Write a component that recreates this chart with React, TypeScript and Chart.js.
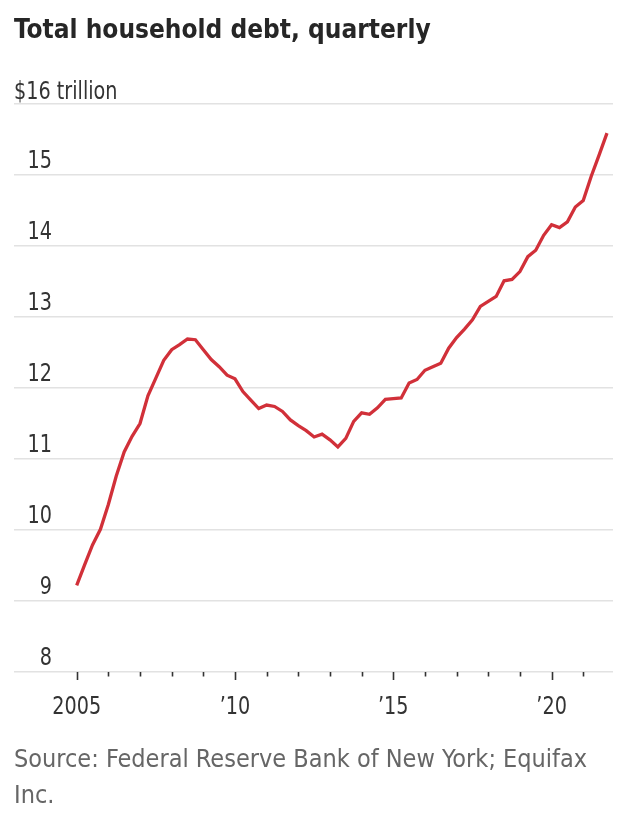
import React, { useEffect, useRef } from "react";
import { Chart, registerables } from "chart.js";

Chart.register(...registerables);

// Total household debt, $ trillion, quarterly from 2005 Q1 to 2021 Q4
const startYear = 2005;
const debt: number[] = [
  9.22, 9.51, 9.79, 10.01, 10.36, 10.76, 11.1, 11.32,
  11.5, 11.89, 12.14, 12.39, 12.54, 12.61, 12.69, 12.68,
  12.54, 12.4, 12.3, 12.18, 12.13, 11.95, 11.83, 11.71,
  11.76, 11.74, 11.67, 11.55, 11.47, 11.4, 11.31, 11.35,
  11.27, 11.17, 11.29, 11.53, 11.65, 11.63, 11.72, 11.84,
  11.85, 11.86, 12.07, 12.12, 12.25, 12.3, 12.35, 12.56,
  12.71, 12.83, 12.96, 13.15, 13.22, 13.29, 13.51, 13.53,
  13.64, 13.85, 13.94, 14.15, 14.3, 14.26, 14.34, 14.55,
  14.64, 14.98, 15.28, 15.59,
];

const yTicks: number[] = [8, 9, 10, 11, 12, 13, 14, 15, 16];
const yTickLabels: string[] = ["8", "9", "10", "11", "12", "13", "14", "15", "$16 trillion"];
const xTickYears: number[] = [2005, 2006, 2007, 2008, 2009, 2010, 2011, 2012, 2013, 2014, 2015, 2016, 2017, 2018, 2019, 2020, 2021];
const xLabelYears: number[] = [2005, 2010, 2015, 2020];
const xLabels: string[] = ["2005", "\u201910", "\u201915", "\u201920"];

const FONT = "'DejaVu Sans Condensed', 'Liberation Sans Narrow', Roboto, sans-serif";
const NARROW = 0.89;

const W = 642;
const H = 828;

export default function App() {
  const ref = useRef<HTMLCanvasElement | null>(null);

  useEffect(() => {
    if (!ref.current) return;
    const points = debt.map((v, i) => ({ x: startYear + i / 4, y: v }));

    const drawText = (
      ctx: CanvasRenderingContext2D,
      text: string,
      x: number,
      y: number,
      align: CanvasTextAlign
    ) => {
      ctx.save();
      ctx.translate(x, y);
      ctx.scale(NARROW, 1);
      ctx.textAlign = align;
      ctx.fillText(text, 0, 0);
      ctx.restore();
    };

    const decor = {
      id: "decor",
      afterDraw(chart: any) {
        const ctx = chart.ctx as CanvasRenderingContext2D;
        const xs = chart.scales.x;
        const ys = chart.scales.y;
        const area = chart.chartArea;
        ctx.save();
        ctx.font = `24px ${FONT}`;
        ctx.fillStyle = "#333";
        ctx.textBaseline = "alphabetic";
        // y labels
        yTicks.forEach((t, i) => {
          const py = ys.getPixelForValue(t);
          const lab = yTickLabels[i];
          if (i === yTicks.length - 1) {
            drawText(ctx, lab, area.left, py - 5.5, "left");
          } else {
            drawText(ctx, lab, area.left + 38, py - 7, "right");
          }
        });
        // x ticks
        const axisY = ys.getPixelForValue(8);
        ctx.strokeStyle = "#333";
        ctx.lineWidth = 1.6;
        xTickYears.forEach((yr) => {
          const px = Math.round(xs.getPixelForValue(yr)) + 0.5;
          const major = xLabelYears.includes(yr);
          ctx.beginPath();
          ctx.moveTo(px, axisY);
          ctx.lineTo(px, axisY + (major ? 8 : 4.5));
          ctx.stroke();
        });
        // x labels
        xLabelYears.forEach((yr, i) => {
          const px = xs.getPixelForValue(yr);
          drawText(ctx, xLabels[i], px, axisY + 42, "center");
        });
        ctx.restore();
      },
    };

    const chart = new Chart(ref.current, {
      type: "line",
      data: {
        datasets: [
          {
            data: points,
            borderColor: "#d13039",
            borderWidth: 3.3,
            pointRadius: 0,
            tension: 0,
            fill: false,
          },
        ],
      },
      options: {
        animation: false,
        responsive: false,
        devicePixelRatio: 1,
        layout: { padding: { left: 14, right: 29, top: 104, bottom: H - 672 } },
        plugins: { legend: { display: false }, tooltip: { enabled: false }, title: { display: false } },
        scales: {
          x: { type: "linear", min: 2003.02, max: 2021.94, display: false },
          y: {
            type: "linear",
            min: 8,
            max: 16,
            border: { display: false },
            ticks: { display: false, stepSize: 1 },
            grid: { color: "#e2e2e2", lineWidth: 1.5, drawTicks: false },
          },
        },
      },
      plugins: [decor],
    });
    return () => chart.destroy();
  }, []);

  return (
    <div style={{ position: "absolute", left: 0, top: 0, width: W, height: H, background: "#fff" }}>
      <canvas ref={ref} width={W} height={H} style={{ position: "absolute", left: 0, top: 0, width: W, height: H }} />
      <div
        style={{
          position: "absolute",
          left: 14,
          top: 12,
          fontFamily: FONT,
          fontWeight: "bold",
          fontSize: 26,
          lineHeight: "34px",
          color: "#262626",
          whiteSpace: "nowrap",
        }}
      >
        Total household debt, quarterly
      </div>
      <div
        style={{
          position: "absolute",
          left: 14,
          top: 741,
          width: 620,
          fontFamily: FONT,
          fontSize: 25,
          lineHeight: "36px",
          color: "#666",
          whiteSpace: "nowrap",
        }}
      >
        Source: Federal Reserve Bank of New York; Equifax
        <br />
        Inc.
      </div>
    </div>
  );
}
